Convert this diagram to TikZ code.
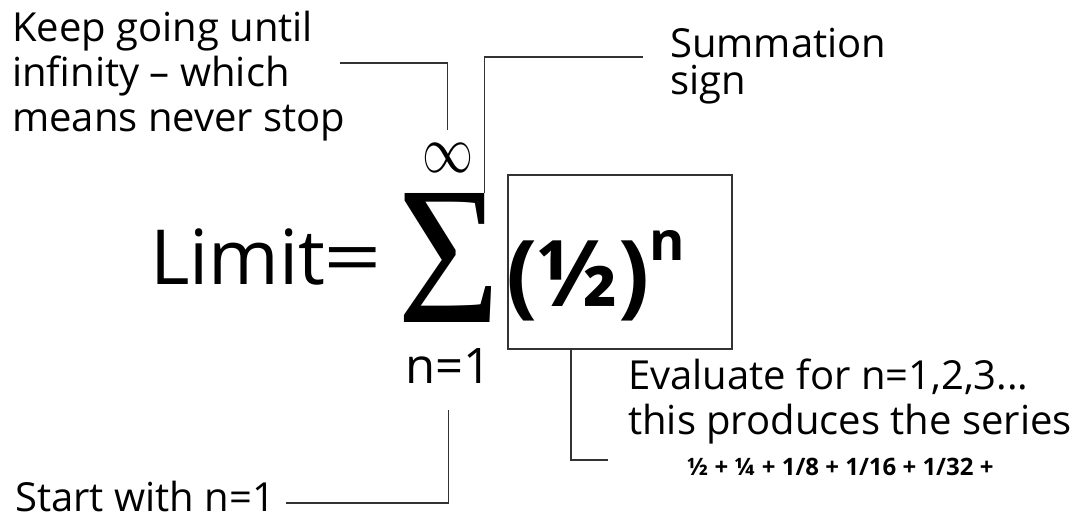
\documentclass[tikz,border=0pt]{standalone}
\usepackage{fontspec}
\setmainfont{Open Sans}
\newfontfamily\sigmafont{Liberation Serif}
\usetikzlibrary{positioning}

\begin{document}
\begin{tikzpicture}[x=1pt, y=-1pt,
    note/.style={inner sep=0pt, align=left, font=\fontsize{40}{45}\selectfont},
    big/.style={inner sep=0pt, font=\fontsize{76}{76}\selectfont},
    leader/.style={line width=1.2pt, color=black!80},
  ]
  \useasboundingbox (0,0) rectangle (1072,513);

  % the formula
  \node[big, anchor=base west] (limit) at (150,285)
        {Limit\kern-2pt\scalebox{1.35}[1]{=}};
  \node[inner sep=0pt] (sum) at (448.5,257.5)
        {\resizebox*{103pt}{129pt}{\sigmafont Σ}};
  \node[inner sep=0pt] (inf) at (447.5,157.5)
        {\resizebox{51pt}{29pt}{$\infty$}};
  \node[big, anchor=base west, font=\fontsize{49}{49}\selectfont] (low) at (405,383) {n=1};
  \node[draw=black!80, line width=1.2pt, minimum width=224pt,
        minimum height=174pt] (box) at (620,262) {};
  \node[inner sep=0pt, anchor=base west, font=\bfseries\fontsize{92}{92}\selectfont]
        (term) at (506,307) {(½)\raisebox{47pt}{\fontsize{54}{54}\selectfont n}};

  % the notes
  \node[note, anchor=north west] (keep) at (12,11)
        {Keep going until\\infinity – which\\means never stop};
  \node[note, anchor=north west, font=\fontsize{40}{37}\selectfont] (summ) at (670,28)
        {Summation\\sign};
  \node[note, anchor=north west] (eval) at (628,359)
        {Evaluate for n=1,2,3...\\this produces the series};
  \node[note, anchor=west, font=\bfseries\fontsize{24}{24}\selectfont] (series) at (687,467)
        {½ + ¼ + 1/8 + 1/16 + 1/32 +};
  \node[note, anchor=base west] (start) at (15,511) {Start with n=1};

  % leader lines
  \coordinate (keepend) at (340,63);
  \coordinate (summend) at (643,57);
  \coordinate (evalend) at (608,460);
  \coordinate (startend) at (286,503);

  \draw[leader] (keepend) -| ([yshift=13pt]inf.north);
  \draw[leader] (summend) -| ([xshift=36pt]sum.north);
  \draw[leader] ([xshift=-49pt]box.south) |- (evalend);
  \draw[leader] ([yshift=-27pt]low.south) |- (startend);
\end{tikzpicture}
\end{document}
